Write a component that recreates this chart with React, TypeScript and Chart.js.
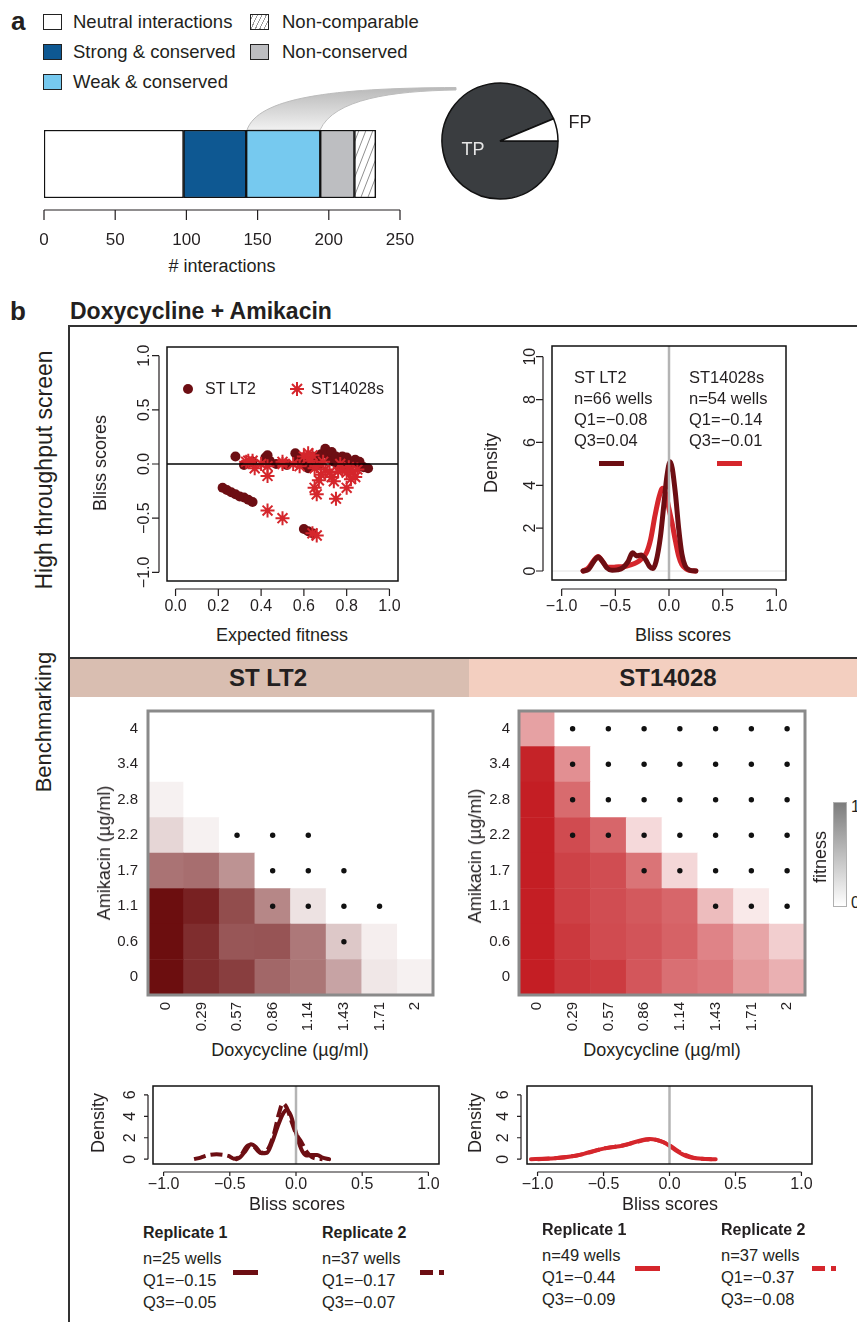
import React, { useEffect, useRef } from 'react';
import { Chart, registerables } from 'chart.js';
Chart.register(...registerables);

const FONT = '"Liberation Sans", Arial, Helvetica, sans-serif';
const INK = '#231f20';
const DARK = '#6d0e13';
const RED = '#d5262c';

// ---------- Panel a ----------
const segmentLabels = ['Neutral interactions', 'Strong & conserved', 'Weak & conserved', 'Non-conserved', 'Non-comparable'];
const segmentValues = [98, 44, 52, 24, 15];
const segmentColors = ['#ffffff', '#0e5892', '#76c9ef', '#bdbec1', 'hatch'];
const interactionTicks = [0, 50, 100, 150, 200, 250];
const pieLabels = ['TP', 'FP'];
const pieValues = [90, 6];

// ---------- Scatter (high-throughput) ----------
const lt2Expected = [0.22, 0.24, 0.26, 0.28, 0.30, 0.32, 0.34, 0.36, 0.28, 0.32, 0.34, 0.36, 0.42, 0.43, 0.44, 0.47, 0.52, 0.56, 0.57, 0.58, 0.60, 0.61, 0.62, 0.63, 0.64, 0.66, 0.67, 0.68, 0.70, 0.71, 0.72, 0.73, 0.74, 0.75, 0.76, 0.77, 0.78, 0.79, 0.80, 0.81, 0.82, 0.84, 0.85, 0.86, 0.87, 0.88, 0.90, 0.60, 0.62, 0.64];
const lt2Bliss = [-0.22, -0.24, -0.26, -0.28, -0.30, -0.31, -0.33, -0.35, 0.07, -0.01, 0.01, 0.02, 0.06, 0.08, 0.03, 0.0, -0.01, 0.10, 0.06, 0.03, 0.05, -0.02, -0.04, 0.02, 0.07, 0.05, -0.01, 0.09, 0.14, 0.09, 0.05, 0.11, 0.02, 0.07, -0.01, 0.04, 0.07, 0.02, 0.06, -0.02, 0.02, 0.04, 0.01, 0.02, -0.02, -0.03, -0.04, -0.60, -0.62, -0.64];
const s14Expected = [0.33, 0.34, 0.36, 0.37, 0.40, 0.43, 0.43, 0.50, 0.50, 0.55, 0.58, 0.60, 0.62, 0.63, 0.64, 0.65, 0.66, 0.65, 0.66, 0.67, 0.68, 0.69, 0.70, 0.72, 0.73, 0.74, 0.75, 0.76, 0.77, 0.78, 0.80, 0.80, 0.81, 0.82, 0.83, 0.84, 0.85, 0.43, 0.50, 0.64, 0.66];
const s14Bliss = [0.02, 0.03, 0.03, -0.04, 0.0, -0.11, -0.02, 0.0, 0.02, 0.0, -0.02, 0.07, 0.10, 0.03, 0.08, -0.04, -0.02, -0.22, -0.28, -0.15, -0.10, 0.02, -0.05, -0.08, -0.12, -0.16, -0.32, -0.07, 0.0, -0.05, -0.22, -0.08, -0.03, -0.14, -0.07, -0.12, -0.05, -0.43, -0.50, -0.64, -0.66];
const scatterXTicks = [0, 0.2, 0.4, 0.6, 0.8, 1];
const scatterYTicks = [-1, -0.5, 0, 0.5, 1];

// ---------- Density (high-throughput) ----------
const lt2DensX = [-0.80, -0.75, -0.70, -0.66, -0.62, -0.58, -0.53, -0.48, -0.43, -0.38, -0.34, -0.30, -0.26, -0.22, -0.18, -0.15, -0.12, -0.08, -0.05, -0.02, 0.01, 0.03, 0.06, 0.09, 0.12, 0.15, 0.19, 0.25];
const lt2DensY = [0, 0.08, 0.45, 0.65, 0.45, 0.15, 0.03, 0.05, 0.15, 0.45, 0.85, 0.7, 0.75, 0.55, 0.2, 0.12, 0.45, 1.6, 3.0, 4.4, 5.1, 4.8, 3.6, 2.0, 0.8, 0.25, 0.05, 0];
const s14DensX = [-0.80, -0.75, -0.70, -0.66, -0.62, -0.57, -0.52, -0.47, -0.42, -0.36, -0.30, -0.25, -0.21, -0.17, -0.13, -0.09, -0.06, -0.03, 0.0, 0.03, 0.06, 0.09, 0.12, 0.16, 0.20, 0.25];
const s14DensY = [0, 0.15, 0.5, 0.68, 0.45, 0.18, 0.17, 0.2, 0.2, 0.28, 0.4, 0.6, 0.85, 1.5, 2.6, 3.5, 3.86, 3.6, 2.9, 2.2, 1.4, 0.7, 0.3, 0.1, 0.02, 0];
const blissTicks = [-1, -0.5, 0, 0.5, 1];
const densityTicks = [0, 2, 4, 6, 8, 10];

// ---------- Heatmaps (benchmarking) ----------
const doxyLabels = ['0', '0.29', '0.57', '0.86', '1.14', '1.43', '1.71', '2'];
const amikLabels = ['0', '0.6', '1.1', '1.7', '2.2', '2.8', '3.4', '4'];
const lt2Fitness = [
  [1.0, 0.87, 0.8, 0.63, 0.57, 0.38, 0.1, 0.06],
  [1.0, 0.87, 0.7, 0.71, 0.56, 0.23, 0.07, 0],
  [1.0, 0.92, 0.74, 0.5, 0.12, 0, 0, 0],
  [0.58, 0.6, 0.45, 0, 0, 0, 0, 0],
  [0.17, 0.06, 0, 0, 0, 0, 0, 0],
  [0.06, 0, 0, 0, 0, 0, 0, 0],
  [0, 0, 0, 0, 0, 0, 0, 0],
  [0, 0, 0, 0, 0, 0, 0, 0],
];
const s14Fitness = [
  [1.0, 0.9, 0.87, 0.75, 0.64, 0.6, 0.45, 0.35],
  [1.0, 0.88, 0.8, 0.76, 0.7, 0.55, 0.4, 0.22],
  [1.0, 0.85, 0.79, 0.74, 0.68, 0.3, 0.1, 0],
  [1.0, 0.84, 0.79, 0.62, 0.18, 0, 0, 0],
  [1.0, 0.8, 0.68, 0.17, 0, 0, 0, 0],
  [1.0, 0.66, 0, 0, 0, 0, 0, 0],
  [0.98, 0.5, 0, 0, 0, 0, 0, 0],
  [0.42, 0, 0, 0, 0, 0, 0, 0],
];
const lt2Dots = [
  [0, 0, 0, 0, 0, 0, 0, 0],
  [0, 0, 0, 0, 0, 1, 0, 0],
  [0, 0, 0, 1, 1, 1, 1, 0],
  [0, 0, 0, 1, 1, 1, 0, 0],
  [0, 0, 1, 1, 1, 0, 0, 0],
  [0, 0, 0, 0, 0, 0, 0, 0],
  [0, 0, 0, 0, 0, 0, 0, 0],
  [0, 0, 0, 0, 0, 0, 0, 0],
];
const s14Dots = [
  [0, 0, 0, 0, 0, 0, 0, 0],
  [0, 0, 0, 0, 0, 0, 0, 0],
  [0, 0, 0, 0, 0, 1, 1, 1],
  [0, 0, 0, 1, 1, 1, 1, 1],
  [0, 1, 1, 1, 1, 1, 1, 1],
  [0, 1, 1, 1, 1, 1, 1, 1],
  [0, 1, 1, 1, 1, 1, 1, 1],
  [0, 1, 1, 1, 1, 1, 1, 1],
];

// ---------- Density (benchmarking) ----------
const lt2Rep1X = [-0.45, -0.42, -0.38, -0.34, -0.30, -0.26, -0.22, -0.18, -0.14, -0.10, -0.07, -0.04, -0.01, 0.02, 0.05, 0.08, 0.12, 0.16, 0.20, 0.25];
const lt2Rep1Y = [0.0, 0.2, 0.8, 1.4, 1.1, 0.55, 0.6, 1.6, 3.0, 4.2, 4.6, 4.1, 2.9, 1.6, 0.7, 0.35, 0.4, 0.4, 0.15, 0];
const lt2Rep2X = [-0.77, -0.72, -0.67, -0.60, -0.55, -0.51, -0.47, -0.42, -0.36, -0.32, -0.27, -0.22, -0.17, -0.13, -0.10, -0.07, -0.03, 0.0, 0.04, 0.08, 0.12, 0.16, 0.20];
const lt2Rep2Y = [0, 0.15, 0.35, 0.45, 0.4, 0.3, 0.05, 0.3, 1.3, 1.2, 0.6, 0.8, 2.2, 4.2, 5.2, 4.8, 3.4, 2.4, 1.6, 0.7, 0.2, 0.05, 0];
const s14Rep1X = [-1.05, -0.95, -0.85, -0.75, -0.65, -0.55, -0.45, -0.38, -0.30, -0.22, -0.15, -0.10, -0.05, 0.0, 0.05, 0.10, 0.15, 0.20, 0.27, 0.35];
const s14Rep1Y = [0, 0.03, 0.1, 0.25, 0.5, 0.85, 1.1, 1.2, 1.45, 1.75, 1.88, 1.8, 1.6, 1.25, 0.8, 0.45, 0.2, 0.08, 0.02, 0];
const s14Rep2X = [-1.0, -0.9, -0.8, -0.7, -0.6, -0.5, -0.42, -0.35, -0.25, -0.18, -0.12, -0.06, 0.0, 0.06, 0.12, 0.18, 0.25, 0.32];
const s14Rep2Y = [0, 0.06, 0.18, 0.35, 0.65, 1.0, 1.15, 1.3, 1.6, 1.8, 1.85, 1.65, 1.3, 0.8, 0.4, 0.15, 0.03, 0];
const smallDensityTicks = [0, 2, 4, 6];

// ---------- helpers ----------
const fmt1 = (v: number) => (v < 0 ? '\u2212' : '') + Math.abs(v).toFixed(1);
const pts = (xs: number[], ys: number[]) => xs.map((x, i) => ({ x, y: ys[i] }));
const mix = (base: number[], f: number) =>
  `rgb(${base.map((c) => Math.round(255 - (255 - c) * f)).join(',')})`;

type Ax = { scale: string; side: 'bottom' | 'left'; at: number[]; labels: string[]; offset: number; tick: number; gap: number; size: number; rotate?: boolean; line?: boolean };
type Spec = { axes: Ax[]; box?: [string, number]; before?: (c: any) => void; after?: (c: any) => void };

function rPlugin(spec: Spec) {
  return {
    id: 'rstyle',
    beforeDatasetsDraw(chart: any) {
      if (spec.before) {
        chart.ctx.save();
        spec.before(chart);
        chart.ctx.restore();
      }
    },
    afterDatasetsDraw(chart: any) {
      const ctx = chart.ctx;
      const a = chart.chartArea;
      ctx.save();
      if (spec.after) spec.after(chart);
      if (spec.box) {
        ctx.strokeStyle = spec.box[0];
        ctx.lineWidth = spec.box[1];
        ctx.strokeRect(a.left, a.top, a.right - a.left, a.bottom - a.top);
      }
      for (const ax of spec.axes) {
        const sc = chart.scales[ax.scale];
        const ps = ax.at.map((v) => sc.getPixelForValue(v));
        ctx.strokeStyle = INK;
        ctx.fillStyle = INK;
        ctx.lineWidth = 1.2;
        ctx.font = `${ax.size}px ${FONT}`;
        ctx.textBaseline = 'middle';
        if (ax.side === 'bottom') {
          const y0 = a.bottom + ax.offset;
          if (ax.line !== false) {
            ctx.beginPath();
            ctx.moveTo(ps[0], y0);
            ctx.lineTo(ps[ps.length - 1], y0);
            ps.forEach((p) => { ctx.moveTo(p, y0); ctx.lineTo(p, y0 + ax.tick); });
            ctx.stroke();
          }
          ps.forEach((p, i) => {
            if (ax.rotate) {
              ctx.save();
              ctx.translate(p, y0 + ax.gap);
              ctx.rotate(-Math.PI / 2);
              ctx.textAlign = 'right';
              ctx.fillText(ax.labels[i], 0, 0);
              ctx.restore();
            } else {
              ctx.textAlign = 'center';
              ctx.fillText(ax.labels[i], p, y0 + ax.gap);
            }
          });
        } else {
          const x0 = a.left - ax.offset;
          if (ax.line !== false) {
            ctx.beginPath();
            ctx.moveTo(x0, ps[0]);
            ctx.lineTo(x0, ps[ps.length - 1]);
            ps.forEach((p) => { ctx.moveTo(x0, p); ctx.lineTo(x0 - ax.tick, p); });
            ctx.stroke();
          }
          ps.forEach((p, i) => {
            if (ax.rotate) {
              ctx.save();
              ctx.translate(x0 - ax.gap, p);
              ctx.rotate(-Math.PI / 2);
              ctx.textAlign = 'center';
              ctx.fillText(ax.labels[i], 0, 0);
              ctx.restore();
            } else {
              ctx.textAlign = 'right';
              ctx.fillText(ax.labels[i], x0 - ax.gap, p);
            }
          });
        }
      }
      ctx.restore();
    },
  };
}

const baseOptions = (padding: any) => ({
  responsive: false,
  maintainAspectRatio: false,
  animation: false as const,
  events: [] as any[],
  layout: { padding },
  plugins: { legend: { display: false }, tooltip: { enabled: false } },
});

function ChartCanvas({ x, y, w, h, make }: { x: number; y: number; w: number; h: number; make: () => any }) {
  const ref = useRef<HTMLCanvasElement>(null);
  useEffect(() => {
    const chart = new Chart(ref.current as HTMLCanvasElement, make());
    return () => chart.destroy();
  }, []);
  return <canvas ref={ref} width={w} height={h} style={{ position: 'absolute', left: x, top: y, width: w, height: h }} />;
}

function T({ x, y, s, size = 18, bold = false, a = 'start', rot = false, color = INK }: any) {
  const tx = a === 'middle' ? '-50%' : a === 'end' ? '-100%' : '0';
  return (
    <div
      style={{
        position: 'absolute', left: x, top: y, fontSize: size, fontWeight: bold ? 700 : 400,
        lineHeight: 1, whiteSpace: 'nowrap', color,
        transform: rot ? 'translate(-50%,-50%) rotate(-90deg)' : `translate(${tx},-50%)`,
      }}
    >
      {s}
    </div>
  );
}

function Rect({ x, y, w, h, bg, border }: any) {
  return <div style={{ position: 'absolute', left: x, top: y, width: w, height: h, background: bg, border, boxSizing: 'border-box' }} />;
}

// ---------- chart configs ----------
function hatchPattern() {
  const c = document.createElement('canvas');
  c.width = 7; c.height = 18;
  const g = c.getContext('2d') as CanvasRenderingContext2D;
  g.fillStyle = '#fff';
  g.fillRect(0, 0, 7, 18);
  g.strokeStyle = '#8f8f8f';
  g.lineWidth = 1;
  g.beginPath();
  g.moveTo(0, 18); g.lineTo(7, 0);
  g.moveTo(-7, 18); g.lineTo(0, 0);
  g.moveTo(7, 18); g.lineTo(14, 0);
  g.stroke();
  return g.createPattern(c, 'repeat');
}

const barConfig = () => ({
  type: 'bar',
  data: {
    labels: [''],
    datasets: segmentLabels.map((lab, i) => ({
      label: lab,
      data: [segmentValues[i]],
      backgroundColor: segmentColors[i] === 'hatch' ? hatchPattern() : segmentColors[i],
      borderColor: '#111',
      borderWidth: 1.5,
      borderSkipped: false,
      barPercentage: 1,
      categoryPercentage: 1,
    })),
  },
  options: {
    ...baseOptions({ left: 24, right: 30, top: 10, bottom: 57 }),
    indexAxis: 'y',
    scales: {
      x: { type: 'linear', min: 0, max: 250, stacked: true, display: false },
      y: { type: 'category', stacked: true, display: false },
    },
  },
  plugins: [rPlugin({
    axes: [{ scale: 'x', side: 'bottom', at: interactionTicks, labels: interactionTicks.map(String), offset: 12, tick: 10, gap: 30, size: 17 }],
  })],
});

const pieConfig = () => ({
  type: 'pie',
  data: {
    labels: pieLabels,
    datasets: [{ data: pieValues, backgroundColor: ['#3a3d40', '#ffffff'], borderColor: '#111', borderWidth: 1.5 }],
  },
  options: { ...baseOptions(0), rotation: 90, radius: 58 },
});

const scatterConfig = () => ({
  type: 'scatter',
  data: {
    datasets: [
      { label: 'ST14028s', data: pts(s14Expected, s14Bliss), pointStyle: 'star', pointRadius: 7, borderColor: RED, backgroundColor: RED, borderWidth: 2 },
      { label: 'ST LT2', data: pts(lt2Expected, lt2Bliss), pointStyle: 'circle', pointRadius: 5, backgroundColor: DARK, borderColor: DARK, borderWidth: 0 },
    ],
  },
  options: {
    ...baseOptions({ left: 72, right: 12, top: 12, bottom: 44 }),
    scales: {
      x: { type: 'linear', min: -0.04, max: 1.04, display: false },
      y: { type: 'linear', min: -1.08, max: 1.08, display: false },
    },
  },
  plugins: [rPlugin({
    box: ['#111', 1.5],
    after: (c: any) => {
      const ctx = c.ctx; const a = c.chartArea; const y0 = c.scales.y.getPixelForValue(0);
      ctx.strokeStyle = '#000'; ctx.lineWidth = 1.5;
      ctx.beginPath(); ctx.moveTo(a.left, y0); ctx.lineTo(a.right, y0); ctx.stroke();
    },
    axes: [
      { scale: 'x', side: 'bottom', at: scatterXTicks, labels: scatterXTicks.map(fmt1), offset: 8, tick: 7, gap: 18, size: 16 },
      { scale: 'y', side: 'left', at: scatterYTicks, labels: scatterYTicks.map(fmt1), offset: 8, tick: 7, gap: 14, size: 16, rotate: true },
    ],
  })],
});

function densityConfig(opts: any) {
  const { series, pad, xmin, xmax, ymin, ymax, yTicks, lw, yOffset, yGap, xOffset, xGap, xTick, hline } = opts;
  return {
    type: 'line',
    data: {
      datasets: series.map((s: any) => ({
        data: pts(s.x, s.y),
        borderColor: s.color,
        borderWidth: lw,
        borderDash: s.dash || [],
        borderCapStyle: s.dash ? 'butt' : 'round',
        borderJoinStyle: 'round',
        pointRadius: 0,
        fill: false,
        cubicInterpolationMode: 'monotone',
      })),
    },
    options: {
      ...baseOptions(pad),
      scales: {
        x: { type: 'linear', min: xmin, max: xmax, display: false },
        y: { type: 'linear', min: ymin, max: ymax, display: false },
      },
    },
    plugins: [rPlugin({
      box: ['#111', 1.5],
      before: (c: any) => {
        if (!hline) return;
        const ctx = c.ctx; const a = c.chartArea; const y0 = c.scales.y.getPixelForValue(0);
        ctx.strokeStyle = '#e2e2e2'; ctx.lineWidth = 1;
        ctx.beginPath(); ctx.moveTo(a.left, y0); ctx.lineTo(a.right, y0); ctx.stroke();
      },
      after: (c: any) => {
        const ctx = c.ctx; const a = c.chartArea; const x0 = c.scales.x.getPixelForValue(0);
        ctx.strokeStyle = '#b4b4b4'; ctx.lineWidth = 2.5;
        ctx.beginPath(); ctx.moveTo(x0, a.top); ctx.lineTo(x0, a.bottom); ctx.stroke();
      },
      axes: [
        { scale: 'x', side: 'bottom', at: blissTicks, labels: blissTicks.map(fmt1), offset: xOffset, tick: xTick, gap: xGap, size: 16 },
        { scale: 'y', side: 'left', at: yTicks, labels: yTicks.map(String), offset: yOffset, tick: xTick, gap: yGap, size: 16, rotate: true },
      ],
    })],
  };
}

function heatmapConfig(fit: number[][], dots: number[][], base: number[], pad: any, yGap: number) {
  const datasets: any[] = amikLabels.map((lab, r) => ({
    type: 'bar',
    label: lab,
    data: doxyLabels.map(() => [r, r + 1]),
    backgroundColor: fit[r].map((f) => mix(base, f)),
    borderWidth: 0,
    barPercentage: 1,
    categoryPercentage: 1,
    grouped: false,
    order: 2,
  }));
  const dotPts: any[] = [];
  dots.forEach((row, r) => row.forEach((d, c) => { if (d) dotPts.push({ x: doxyLabels[c], y: r + 0.5 }); }));
  datasets.push({ type: 'scatter', data: dotPts, pointRadius: 2.7, backgroundColor: '#111', borderWidth: 0, order: 1 });
  return {
    type: 'bar',
    data: { labels: doxyLabels, datasets },
    options: {
      ...baseOptions(pad),
      scales: {
        x: { type: 'category', labels: doxyLabels, offset: true, display: false },
        y: { type: 'linear', min: 0, max: 8, display: false },
      },
    },
    plugins: [rPlugin({
      box: ['#8a8a8a', 3],
      axes: [
        { scale: 'x', side: 'bottom', at: doxyLabels.map((_, i) => i), labels: doxyLabels, offset: 0, tick: 0, gap: 7, size: 15, rotate: true, line: false },
        { scale: 'y', side: 'left', at: amikLabels.map((_, i) => i + 0.5), labels: amikLabels, offset: 0, tick: 0, gap: yGap, size: 15, line: false },
      ],
    })],
  };
}

// ---------- App ----------
export default function App() {
  const legendRows = [
    { x: 43, tx: 73, y: 22, i: 0 },
    { x: 43, tx: 73, y: 52, i: 1 },
    { x: 43, tx: 73, y: 82, i: 2 },
    { x: 250, tx: 282, y: 22, i: 4 },
    { x: 250, tx: 282, y: 52, i: 3 },
  ];
  return (
    <div style={{ position: 'absolute', left: 0, top: 0, width: 857, height: 1322, overflow: 'hidden', background: '#fff', fontFamily: FONT, color: INK }}>
      {/* Panel a */}
      <T x={11} y={21} s="a" size={26} bold />
      {legendRows.map((r) => (
        <React.Fragment key={r.i}>
          <Rect x={r.x} y={r.y - 8} w={19} h={16} border="1.5px solid #222"
            bg={segmentColors[r.i] === 'hatch' ? 'repeating-linear-gradient(-65deg, #fff 0px, #fff 3px, #999 3px, #999 4px)' : segmentColors[r.i]} />
          <T x={r.tx} y={r.y} s={segmentLabels[r.i]} size={18.5} />
        </React.Fragment>
      ))}
      <svg width={857} height={300} style={{ position: 'absolute', left: 0, top: 0 }}>
        <defs>
          <linearGradient id="cg" x1="0" y1="0" x2="0" y2="1">
            <stop offset="0" stopColor="#b9b9b9" />
            <stop offset="1" stopColor="#f1f1f1" />
          </linearGradient>
        </defs>
        <path d="M247,130 C258,98 330,88 456,87.5 L456,90 C392,91 334,99 320,130 Z" fill="url(#cg)" stroke="#bdbdbd" strokeWidth={1} />
      </svg>
      <ChartCanvas x={20} y={120} w={410} h={135} make={barConfig} />
      <T x={222} y={266} s="# interactions" size={18} a="middle" />
      <ChartCanvas x={435} y={76} w={130} h={130} make={pieConfig} />
      <T x={473} y={149} s={pieLabels[0]} size={18} a="middle" color="#e6e6e6" />
      <T x={580} y={122} s={pieLabels[1]} size={18} a="middle" />

      {/* Panel b frame */}
      <T x={10} y={311} s="b" size={26} bold />
      <T x={70} y={311} s="Doxycycline + Amikacin" size={23} bold />
      <Rect x={68} y={325} w={789} h={2} bg="#333" />
      <Rect x={68} y={325} w={2} h={997} bg="#333" />
      <Rect x={70} y={659} w={399} h={38} bg="#d9beb1" />
      <Rect x={469} y={659} w={388} h={38} bg="#f3cfc0" />
      <Rect x={68} y={657} w={789} h={2} bg="#333" />
      <T x={268} y={678} s="ST LT2" size={24} bold a="middle" />
      <T x={668} y={678} s="ST14028" size={24} bold a="middle" />
      <T x={44} y={470} s="High throughput screen" size={23} rot />
      <T x={44} y={722} s="Benchmarking" size={22} rot />

      {/* Scatter */}
      <ChartCanvas x={95} y={335} w={315} h={290} make={scatterConfig} />
      <T x={282} y={635} s="Expected fitness" size={18} a="middle" />
      <T x={100} y={463} s="Bliss scores" size={18} rot />
      <div style={{ position: 'absolute', left: 183, top: 384, width: 10, height: 10, borderRadius: 5, background: DARK }} />
      <T x={205} y={389} s="ST LT2" size={16} />
      <svg width={16} height={16} style={{ position: 'absolute', left: 289, top: 381 }}>
        <g stroke={RED} strokeWidth={2}>
          <line x1={8} y1={1} x2={8} y2={15} />
          <line x1={1} y1={8} x2={15} y2={8} />
          <line x1={3} y1={3} x2={13} y2={13} />
          <line x1={13} y1={3} x2={3} y2={13} />
        </g>
      </svg>
      <T x={311} y={389} s="ST14028s" size={16} />

      {/* Density top */}
      <ChartCanvas x={500} y={335} w={357} h={290} make={() => densityConfig({
        series: [
          { x: lt2DensX, y: lt2DensY, color: DARK },
          { x: s14DensX, y: s14DensY, color: RED },
        ],
        pad: { left: 52, right: 71, top: 11, bottom: 45 },
        xmin: -1.09, xmax: 1.09, ymin: -0.42, ymax: 10.5, yTicks: densityTicks, lw: 5,
        yOffset: 9, yGap: 12, xOffset: 9, xGap: 18, xTick: 7, hline: true,
      })} />
      <T x={683} y={635} s="Bliss scores" size={18} a="middle" />
      <T x={491} y={463} s="Density" size={18} rot />
      {['ST LT2', 'n=66 wells', 'Q1=\u22120.08', 'Q3=0.04'].map((s, i) => (
        <T key={'l' + i} x={574} y={377 + i * 21} s={s} size={16.5} />
      ))}
      {['ST14028s', 'n=54 wells', 'Q1=\u22120.14', 'Q3=\u22120.01'].map((s, i) => (
        <T key={'r' + i} x={689} y={377 + i * 21} s={s} size={16.5} />
      ))}
      <Rect x={599} y={460.5} w={25} h={5} bg={DARK} />
      <Rect x={717} y={460.5} w={25} h={5} bg={RED} />

      {/* Heatmaps */}
      <ChartCanvas x={100} y={700} w={345} h={340} make={() => heatmapConfig(lt2Fitness, lt2Dots, [108, 14, 15], { left: 48, right: 12, top: 11, bottom: 45 }, 10)} />
      <ChartCanvas x={470} y={700} w={345} h={340} make={() => heatmapConfig(s14Fitness, s14Dots, [196, 30, 36], { left: 49, right: 10, top: 11, bottom: 45 }, 9)} />
      <T x={104} y={853} s="Amikacin (µg/ml)" size={18} rot />
      <T x={475} y={856} s="Amikacin (µg/ml)" size={18} rot />
      <T x={290} y={1050} s="Doxycycline (µg/ml)" size={18} a="middle" />
      <T x={662} y={1050} s="Doxycycline (µg/ml)" size={18} a="middle" />
      <Rect x={833} y={802} w={14} h={105} bg="linear-gradient(#7d7d7d, #ffffff)" border="1px solid #b0b0b0" />
      <T x={851} y={807} s="1" size={16} />
      <T x={851} y={903} s="0" size={16} />
      <T x={820} y={857} s="fitness" size={18} rot />

      {/* Bottom densities */}
      <ChartCanvas x={80} y={1078} w={375} h={120} make={() => densityConfig({
        series: [
          { x: lt2Rep1X, y: lt2Rep1Y, color: DARK },
          { x: lt2Rep2X, y: lt2Rep2Y, color: DARK, dash: [12, 5] },
        ],
        pad: { left: 73, right: 16, top: 8, bottom: 34 },
        xmin: -1.08, xmax: 1.08, ymin: -0.45, ymax: 6.83, yTicks: smallDensityTicks, lw: 4,
        yOffset: 5, yGap: 17, xOffset: 8, xGap: 13, xTick: 4, hline: false,
      })} />
      <ChartCanvas x={460} y={1078} w={397} h={120} make={() => densityConfig({
        series: [
          { x: s14Rep1X, y: s14Rep1Y, color: RED },
          { x: s14Rep2X, y: s14Rep2Y, color: RED, dash: [12, 5] },
        ],
        pad: { left: 67, right: 45, top: 8, bottom: 34 },
        xmin: -1.08, xmax: 1.08, ymin: -0.45, ymax: 6.83, yTicks: smallDensityTicks, lw: 4,
        yOffset: 6, yGap: 17, xOffset: 8, xGap: 13, xTick: 4, hline: false,
      })} />
      <T x={297} y={1204} s="Bliss scores" size={18} a="middle" />
      <T x={670} y={1204} s="Bliss scores" size={18} a="middle" />
      <T x={98} y={1123} s="Density" size={18} rot />
      <T x={475} y={1123} s="Density" size={18} rot />

      {/* Bottom legends */}
      {[
        { x: 143, y: 1233, lines: ['n=25 wells', 'Q1=\u22120.15', 'Q3=\u22120.05'], title: 'Replicate 1' },
        { x: 322, y: 1233, lines: ['n=37 wells', 'Q1=\u22120.17', 'Q3=\u22120.07'], title: 'Replicate 2' },
        { x: 542, y: 1230, lines: ['n=49 wells', 'Q1=\u22120.44', 'Q3=\u22120.09'], title: 'Replicate 1' },
        { x: 721, y: 1230, lines: ['n=37 wells', 'Q1=\u22120.37', 'Q3=\u22120.08'], title: 'Replicate 2' },
      ].map((b, k) => (
        <React.Fragment key={'b' + k}>
          <T x={b.x} y={b.y} s={b.title} size={16} bold />
          {b.lines.map((s, i) => <T key={i} x={b.x} y={b.y + 25 + i * 22} s={s} size={16.5} />)}
        </React.Fragment>
      ))}
      <Rect x={233} y={1270} w={25} h={5} bg={DARK} />
      <Rect x={420} y={1270} w={13} h={5} bg={DARK} />
      <Rect x={439} y={1270} w={5} h={5} bg={DARK} />
      <Rect x={635} y={1266} w={25} h={5} bg={RED} />
      <Rect x={812} y={1266} w={13} h={5} bg={RED} />
      <Rect x={831} y={1266} w={5} h={5} bg={RED} />
    </div>
  );
}
